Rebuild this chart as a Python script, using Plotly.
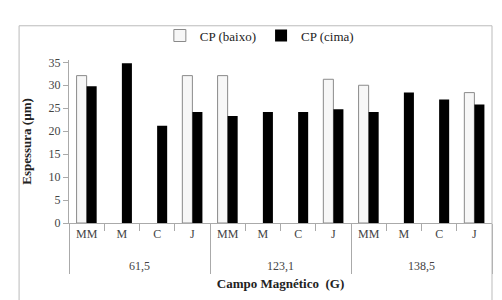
import plotly.graph_objects as go

groups = ["<br>61,5"] * 4 + ["<br>123,1"] * 4 + ["<br>138,5"] * 4
cats = ["MM", "M", "C", "J"] * 3
baixo = [32.1, None, None, 32.1, 32.1, None, None, 31.3, 30.0, None, None, 28.4]
cima = [29.8, 34.8, 21.2, 24.2, 23.3, 24.2, 24.2, 24.8, 24.2, 28.4, 26.9, 25.8]
yticks = [0, 5, 10, 15, 20, 25, 30, 35]

font = "Times New Roman, Liberation Serif, serif"

fig = go.Figure()
fig.add_trace(go.Bar(x=[groups, cats], y=baixo, name="CP (baixo)",
                     marker=dict(color="#f7f7f7", line=dict(color="#8a8a8a", width=1))))
fig.add_trace(go.Bar(x=[groups, cats], y=cima, name="CP (cima)",
                     marker=dict(color="black", line=dict(color="black", width=0))))

fig.update_layout(
    width=502, height=300,
    margin=dict(l=61, r=18, t=47, b=85),
    paper_bgcolor="white", plot_bgcolor="white",
    barmode="group", bargap=0.43, bargroupgap=0,
    font=dict(family=font, size=12, color="#333"),
    showlegend=True,
    legend=dict(orientation="h", x=0.45, xanchor="center", y=1.15, yanchor="middle",
                font=dict(family=font, size=13, color="#222"), itemwidth=30,
                bgcolor="rgba(0,0,0,0)"),
    xaxis=dict(type="multicategory", automargin=False, showline=True, linecolor="#aaa",
               ticks="outside", tickcolor="#aaa", ticklen=7, dividercolor="#aaa",
               dividerwidth=1, showgrid=False,
               tickfont=dict(family=font, size=12, color="#444"),
               title=dict(text="<b>Campo Magnético  (G)</b>",
                          font=dict(family=font, size=13, color="#222"), standoff=6)),
    yaxis=dict(range=[0, 35.5], tickvals=yticks, showline=True, linecolor="#aaa",
               automargin=False,
               ticks="outside", tickcolor="#aaa", ticklen=5, showgrid=False, zeroline=False,
               tickfont=dict(family=font, size=12, color="#444"),
               title=dict(text="<b>Espessura (µm)</b>",
                          font=dict(family=font, size=13, color="#222"), standoff=14)),
    shapes=[dict(type="rect", xref="paper", yref="paper",
                 x0=-0.118, x1=1.0, y0=-0.55, y1=1.21,
                 line=dict(color="#bbb", width=1), fillcolor="rgba(0,0,0,0)")],
)

fig.write_html("out.html")
